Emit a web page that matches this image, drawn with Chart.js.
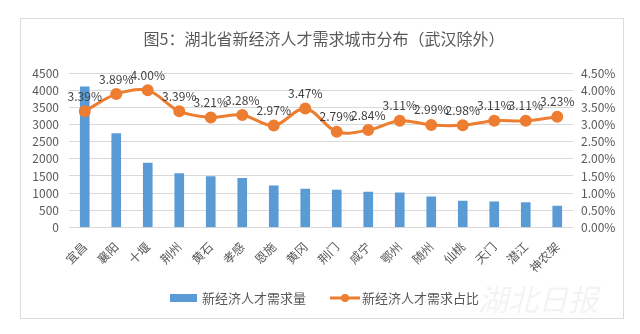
<!DOCTYPE html>
<html>
<head>
<meta charset="utf-8">
<script src="https://cdn.jsdelivr.net/npm/chart.js@4/dist/chart.umd.min.js"></script>
<style>
  html, body { margin: 0; padding: 0; background: #fff; }
  #wrap { width: 640px; height: 334px; position: relative; }
</style>
</head>
<body>
<div id="wrap"><canvas id="chart" width="640" height="334"></canvas></div>
<script>
const cities = ['宜昌', '襄阳', '十堰', '荆州', '黄石', '孝感', '恩施', '黄冈', '荆门', '咸宁', '鄂州', '随州', '仙桃', '天门', '潜江', '神农架'];
const demand = [4100, 2740, 1880, 1570, 1480, 1430, 1210, 1120, 1090, 1030, 1010, 890, 765, 745, 725, 620];
const share = [3.39, 3.89, 4.00, 3.39, 3.21, 3.28, 2.97, 3.47, 2.79, 2.84, 3.11, 2.99, 2.98, 3.11, 3.11, 3.23];
const seriesNames = ['新经济人才需求量', '新经济人才需求占比'];

const BLUE = '#5B9BD5';
const ORANGE = '#ED7D31';
const TEXT = '#595959';
const FONT = '"Noto Sans CJK SC", "Noto Sans", sans-serif';

// frame, data labels, legend, watermark
const decor = {
    id: 'decor',
    beforeDraw(chart) {
        const ctx = chart.ctx;
        ctx.save();
        ctx.fillStyle = '#fff';
        ctx.fillRect(0, 0, chart.width, chart.height);
        ctx.strokeStyle = '#dcdcdc';
        ctx.lineWidth = 1;
        ctx.strokeRect(20.5, 18.5, 603, 300);
        ctx.restore();
    },
    afterDatasetsDraw(chart) {
        const ctx = chart.ctx;
        const meta = chart.getDatasetMeta(0);
        ctx.save();
        ctx.font = '12px ' + FONT;
        ctx.fillStyle = '#404040';
        ctx.textAlign = 'center';
        ctx.textBaseline = 'middle';
        meta.data.forEach((pt, i) => {
            ctx.fillText(share[i].toFixed(2) + '%', pt.x, pt.y - 15);
        });
        ctx.restore();
    },
    afterDraw(chart) {
        const ctx = chart.ctx;
        ctx.save();
        // watermark
        ctx.font = 'italic 30px ' + FONT;
        ctx.fillStyle = 'rgba(215,215,215,0.3)';
        ctx.textAlign = 'left';
        ctx.textBaseline = 'middle';
        ctx.fillText('湖北日报', 478, 300);

        const y = 298;
        ctx.font = '13px ' + FONT;
        ctx.textBaseline = 'middle';
        ctx.fillStyle = BLUE;
        ctx.fillRect(170, y - 4, 27, 8);
        ctx.fillStyle = TEXT;
        ctx.fillText(seriesNames[0], 202, y);
        ctx.strokeStyle = ORANGE;
        ctx.lineWidth = 3;
        ctx.beginPath();
        ctx.moveTo(330, y);
        ctx.lineTo(360, y);
        ctx.stroke();
        ctx.fillStyle = ORANGE;
        ctx.beginPath();
        ctx.arc(345, y, 4, 0, Math.PI * 2);
        ctx.fill();
        ctx.fillStyle = TEXT;
        ctx.fillText(seriesNames[1], 362, y);
        ctx.restore();
    }
};

new Chart(document.getElementById('chart'), {
    type: 'bar',
    data: {
        labels: cities,
        datasets: [
            {
                type: 'line',
                label: seriesNames[1],
                data: share,
                yAxisID: 'y2',
                borderColor: ORANGE,
                backgroundColor: ORANGE,
                borderWidth: 3,
                pointRadius: 4.5,
                pointBackgroundColor: ORANGE,
                pointBorderColor: ORANGE,
                tension: 0.35,
                order: 0
            },
            {
                label: seriesNames[0],
                data: demand,
                yAxisID: 'y',
                backgroundColor: BLUE,
                barThickness: 9,
                order: 1
            }
        ]
    },
    options: {
        responsive: false,
        animation: false,
        devicePixelRatio: 1,
        layout: { padding: { left: 20, right: 12, top: 0, bottom: 55 } },
        plugins: {
            legend: { display: false },
            tooltip: { enabled: false },
            title: {
                display: true,
                text: '图5：湖北省新经济人才需求城市分布（武汉除外）',
                color: TEXT,
                font: { family: FONT, size: 16, weight: 'normal' },
                padding: { top: 29, bottom: 25 }
            }
        },
        scales: {
            x: {
                grid: { display: false },
                border: { display: false },
                ticks: {
                    color: TEXT,
                    font: { family: FONT, size: 12 },
                    minRotation: 45,
                    maxRotation: 45,
                    autoSkip: false,
                    padding: 4
                }
            },
            y: {
                position: 'left',
                min: 0,
                max: 4500,
                grid: { color: '#d9d9d9', drawTicks: false },
                border: { display: false },
                ticks: {
                    stepSize: 500,
                    autoSkip: false,
                    color: TEXT,
                    font: { family: FONT, size: 12 },
                    padding: 10,
                    callback: v => String(v)
                },
                afterFit(scale) { scale.width = 49; }
            },
            y2: {
                position: 'right',
                min: 0,
                max: 4.5,
                grid: { display: false, drawTicks: false },
                border: { display: false },
                ticks: {
                    stepSize: 0.5,
                    autoSkip: false,
                    color: TEXT,
                    font: { family: FONT, size: 12 },
                    padding: 8,
                    callback: v => v.toFixed(2) + '%'
                },
                afterFit(scale) { scale.width = 55; }
            }
        }
    },
    plugins: [decor]
});
</script>
</body>
</html>
